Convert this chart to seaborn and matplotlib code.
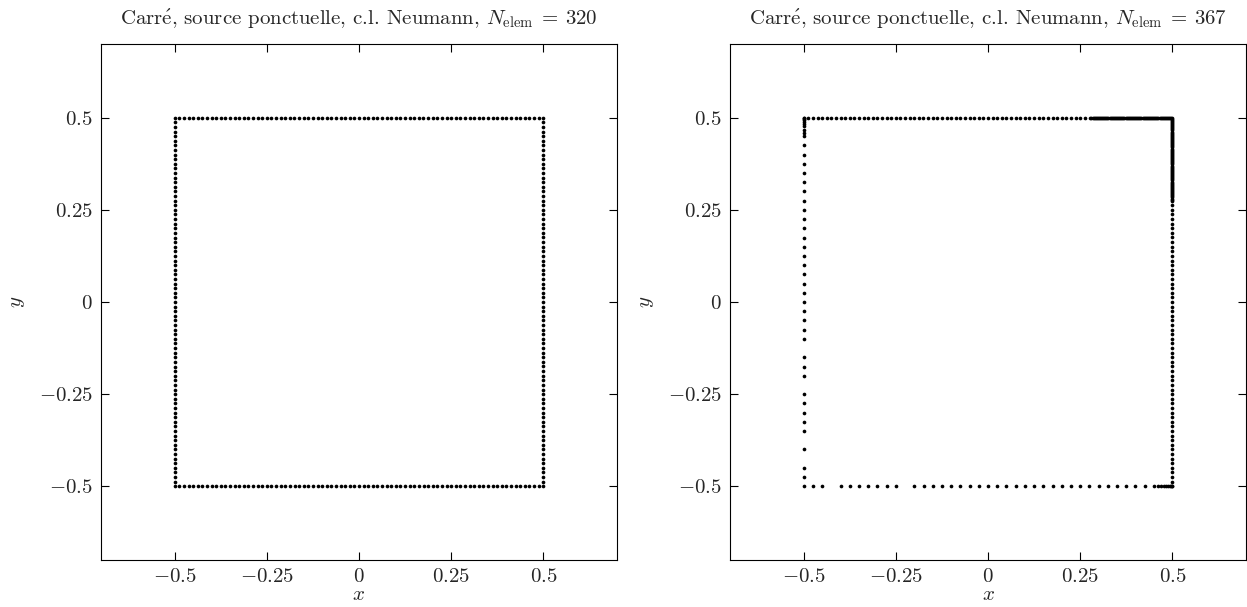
import numpy as np
import pandas as pd
import matplotlib
matplotlib.use("Agg")
import matplotlib.pyplot as plt
import seaborn as sns

# ---------------- data ----------------
# Left panel: uniform mesh, 80 nodes per side, step
left_step = 0.0125
left_side = np.arange(-0.5, 0.5, left_step)  # 80 nodes per side -> 320 elements

# Right panel: adaptive mesh (367 elements)
right_bottom_x = [-0.5, -0.475, -0.45,
                  -0.4, -0.375, -0.35, -0.325, -0.3, -0.275, -0.25,
                  -0.2, -0.175, -0.15, -0.125, -0.1, -0.075, -0.05, -0.025, 0.0,
                  0.025, 0.05, 0.075, 0.1, 0.125, 0.15, 0.175, 0.2, 0.225, 0.25,
                  0.275, 0.3, 0.325, 0.35, 0.375, 0.4, 0.425,
                  0.45, 0.4625, 0.47, 0.478, 0.484, 0.489, 0.493, 0.496, 0.498]
right_left_y = [0.5, 0.498, 0.496, 0.493, 0.489, 0.484, 0.477, 0.468, 0.459, 0.45,
                0.425, 0.4, 0.375, 0.35, 0.325, 0.3, 0.275, 0.25, 0.225, 0.2, 0.175,
                0.15, 0.125, 0.1, 0.075, 0.05, 0.025, 0.0, -0.025, -0.05, -0.075, -0.1,
                -0.15, -0.175, -0.2,
                -0.25, -0.275, -0.3, -0.325, -0.35,
                -0.4, -0.45, -0.475]
right_edge_coarse = (-0.5, 0.2625, 0.0125)   # x = 0.5, from bottom up
right_edge_fine = (0.275, 0.5, 78)           # x = 0.5, refined near top corner
top_edge_fine = (0.5, 0.275, 78)             # y = 0.5, refined near top-right corner
top_edge_coarse = (0.2625, -0.4875, 0.0125)  # y = 0.5, towards the left

titles = [r"Carr$\acute{\mathrm{e}}$, source ponctuelle, c.l. Neumann, $N_{\mathrm{elem}}\:=\:320$",
          r"Carr$\acute{\mathrm{e}}$, source ponctuelle, c.l. Neumann, $N_{\mathrm{elem}}\:=\:367$"]
tick_values = [-0.5, -0.25, 0.0, 0.25, 0.5]
tick_labels = [r"$-0.5$", r"$-0.25$", r"$0$", r"$0.25$", r"$0.5$"]

# ---------------- build node tables ----------------
s = left_side
lx = np.concatenate([s, np.full_like(s, 0.5), -s, np.full_like(s, -0.5)])
ly = np.concatenate([np.full_like(s, -0.5), s, np.full_like(s, 0.5), -s])
df_left = pd.DataFrame({"x": lx, "y": ly})

rc = np.arange(right_edge_coarse[0], right_edge_coarse[1] + 1e-9, right_edge_coarse[2])
rf = np.linspace(right_edge_fine[0], right_edge_fine[1], right_edge_fine[2], endpoint=False)
tf = np.linspace(top_edge_fine[0], top_edge_fine[1], top_edge_fine[2], endpoint=False)
tc = np.arange(top_edge_coarse[0], top_edge_coarse[1] - 1e-9, -top_edge_coarse[2])
bx = np.array(right_bottom_x)
ly2 = np.array(right_left_y)
rx = np.concatenate([bx, np.full(len(rc) + len(rf), 0.5), tf, tc, np.full(len(ly2), -0.5)])
ry = np.concatenate([np.full(len(bx), -0.5), rc, rf, np.full(len(tf) + len(tc), 0.5), ly2])
df_right = pd.DataFrame({"x": rx, "y": ry})

# ---------------- plot ----------------
sns.set_style("ticks")
plt.rcParams.update({
    "font.family": ["serif"],
    "font.serif": ["cmr10", "DejaVu Serif"],
    "mathtext.fontset": "cm",
    "axes.unicode_minus": False,
    "axes.formatter.use_mathtext": True,
    "axes.edgecolor": "black",
    "axes.linewidth": 0.8,
})

fig = plt.figure(figsize=(12.47, 6.07), dpi=100)
ax1 = fig.add_axes([101 / 1247, 47 / 607, 516 / 1247, 516 / 607])
ax2 = fig.add_axes([730 / 1247, 47 / 607, 516 / 1247, 516 / 607])

for ax, df, title in [(ax1, df_left, titles[0]), (ax2, df_right, titles[1])]:
    sns.scatterplot(data=df, x="x", y="y", ax=ax, color="black", s=7,
                    linewidth=0, legend=False)
    ax.set_xlim(-0.7, 0.7)
    ax.set_ylim(-0.7, 0.7)
    ax.set_xticks(tick_values)
    ax.set_yticks(tick_values)
    ax.set_xticklabels(tick_labels)
    ax.set_yticklabels(tick_labels)
    ax.tick_params(direction="in", top=True, right=True, length=6, width=0.8,
                   labelsize=15, color="black", pad=6)
    ax.set_xlabel(r"$x$", fontsize=15, labelpad=0)
    ax.set_ylabel(r"$y$", fontsize=15, labelpad=8)
    ax.set_title(title, fontsize=15, pad=14)

fig.savefig("out.png", dpi=100)
